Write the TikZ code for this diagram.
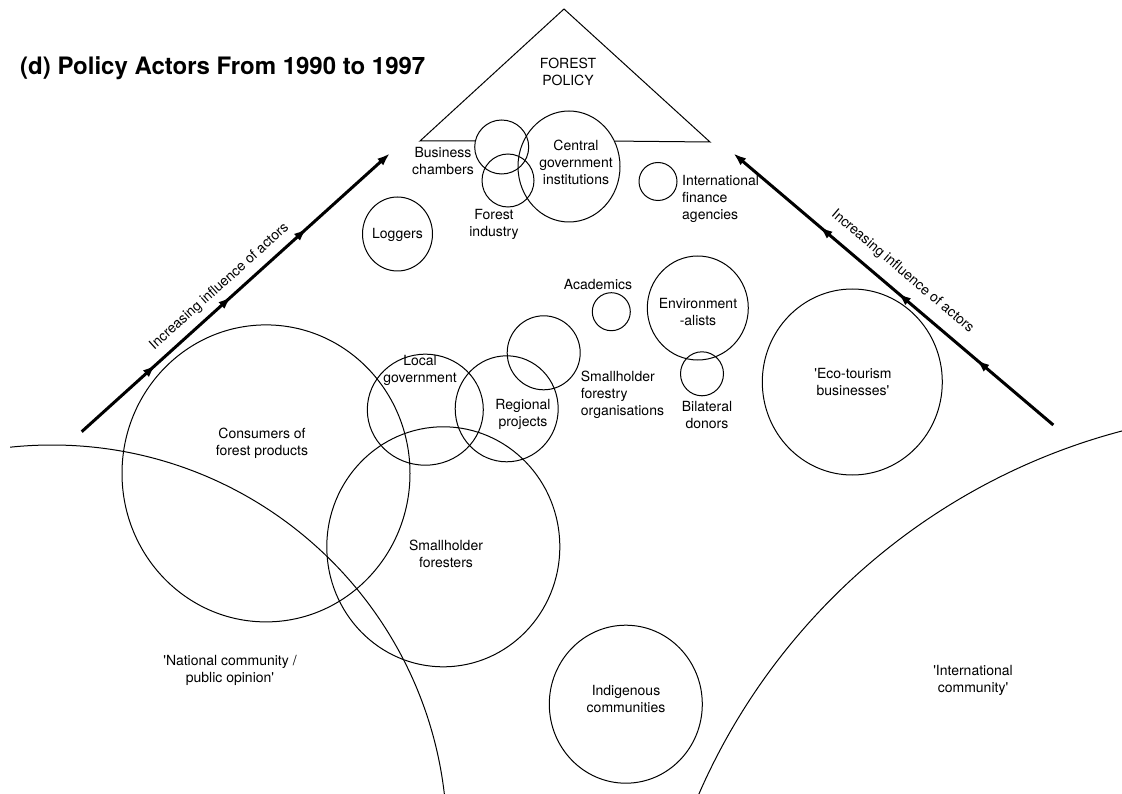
\documentclass[tikz,border=0pt]{standalone}
\usepackage{fontspec}
\setmainfont{TeX Gyre Heros}
\usetikzlibrary{arrows.meta,shapes.geometric,decorations.markings}
\tikzset{
  actor/.style 2 args={
    draw,
    ellipse,
    line width=1pt,
    inner sep=0pt,
    minimum width=#1,
    minimum height=#2
  },
  lbl/.style={
    align=center,
    font=\fontsize{14}{17}\selectfont,
    inner sep=0pt
  },
  title/.style={
    font=\fontsize{24}{28}\selectfont\bfseries,
    inner sep=0pt
  },
  outline/.style={line width=1pt, line join=miter},
  influence/.style={
    line width=3pt,
    -{Latex[length=13pt,width=9pt]},
    decoration={markings,
      mark=at position 0.24 with {\arrow{Latex[length=13pt,width=9pt]}},
      mark=at position 0.485 with {\arrow{Latex[length=13pt,width=9pt]}},
      mark=at position 0.73 with {\arrow{Latex[length=13pt,width=9pt]}}},
    postaction={decorate}
  }
}
\newcommand{\sq}{\textquotesingle}
\begin{document}
\begin{tikzpicture}[x=1pt, y=-1pt]
  \useasboundingbox (0,0) rectangle (1122,794);

  \node[title, anchor=base west] (ttl) at (20,75) {(d) Policy Actors From 1990 to 1997};

  \coordinate (apex) at (564,9);
  \coordinate (lc) at (420,141);
  \coordinate (rc) at (710,142);

  \node[actor={54}{54}] (bc) at (501.7,147) {};
  \node[actor={102}{111}] (cg) at (569,166.5) {};
  \node[actor={52}{53}] (fi) at (508,180.5) {};
  \node[actor={38}{38}] (ifa) at (658,181.5) {};
  \node[actor={70}{74}] (lg) at (397.5,234) {};
  \node[actor={38}{38}] (ac) at (611.3,311.7) {};
  \node[actor={101}{104}] (env) at (697.8,308) {};
  \node[actor={43}{44}] (bd) at (702,373.8) {};
  \node[actor={73}{74}] (sfo) at (543.7,352.8) {};
  \node[actor={116}{111}] (lgov) at (425.3,409.7) {};
  \node[actor={103}{106}] (rp) at (506.7,408.8) {};
  \node[actor={288}{297}] (cons) at (266,473.4) {};
  \node[actor={233}{240}] (sf) at (443.3,546.8) {};
  \node[actor={180}{186}] (eco) at (852.3,382) {};
  \node[actor={153}{158}] (ind) at (625.8,704.2) {};

  \draw[outline] (bc.167) -- (lc) -- (apex) -- (rc) -- (cg.29);

  \begin{scope}
    \clip (10,0) rectangle (1122,794);
    \node[actor={790}{790}] (natl) at (52,840) {};
    \node[actor={1278}{1278}] (intl) at (1285,1049) {};
  \end{scope}

  \node[lbl] (fpl) at (568,72) {FOREST\\POLICY};
  \node[lbl] (bcl) at (443,161) {Business\\chambers};
  \node[lbl] (cgl) at (576,162) {Central\\government\\institutions};
  \node[lbl] (fil) at (494,224) {Forest\\industry};
  \node[lbl, align=left, anchor=west] (ifal) at (682,199) {International\\finance\\agencies};
  \node[lbl] (lgl) at (397.5,235) {Loggers};
  \node[lbl] (acl) at (598,285) {Academics};
  \node[lbl] (envl) at (698,312) {Environment\\-alists};
  \node[lbl] (lgovl) at (420,370) {Local\\government};
  \node[lbl] (rpl) at (523,414) {Regional\\projects};
  \node[lbl, align=left, anchor=west] (sfol) at (580.7,395) {Smallholder\\forestry\\organisations};
  \node[lbl] (bdl) at (707,415) {Bilateral\\donors};
  \node[lbl] (ecol) at (853,382) {\sq Eco-tourism\\businesses\sq};
  \node[lbl] (consl) at (262,443) {Consumers of\\forest products};
  \node[lbl] (sfl) at (446,554) {Smallholder\\foresters};
  \node[lbl] (natll) at (230,670) {\sq National community /\\public opinion\sq};
  \node[lbl] (indl) at (626,699) {Indigenous\\communities};
  \node[lbl] (intll) at (973,680) {\sq International\\community\sq};

  \coordinate (la0) at (81.7,431.7);
  \coordinate (la1) at (390,153.3);
  \coordinate (ra0) at (1053.3,425);
  \coordinate (ra1) at (733.3,153.3);
  \draw[influence] (la0) -- (la1) node[lbl, pos=0.48, sloped, above=7pt] (lal) {Increasing influence of actors};
  \draw[influence] (ra0) -- (ra1) node[lbl, pos=0.51, sloped, above=11pt] (ral) {Increasing influence of actors};
\end{tikzpicture}
\end{document}
